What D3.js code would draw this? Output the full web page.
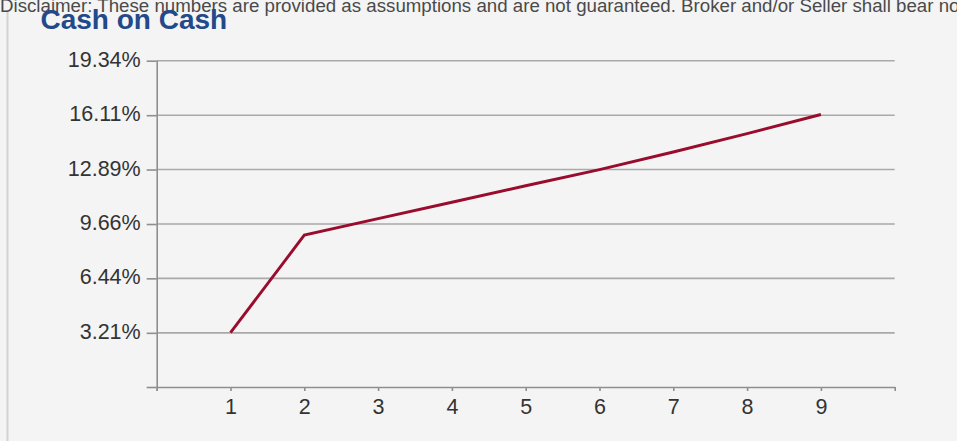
<!DOCTYPE html>
<html>
<head>
<meta charset="utf-8">
<script src="https://cdn.jsdelivr.net/npm/d3@7"></script>
<style>
  html, body { margin: 0; padding: 0; background: #f4f4f4; overflow: hidden; }
  svg { display: block; }
</style>
</head>
<body>
<script>
// ---- data ----
const years = [1, 2, 3, 4, 5, 6, 7, 8, 9];
const cashOnCash = [3.22, 9.0, 9.98, 10.95, 11.93, 12.88, 13.93, 15.02, 16.15];
const yTickValues = [0, 3.21, 6.44, 9.66, 12.89, 16.11, 19.34];
const yTickLabels = ["", "3.21%", "6.44%", "9.66%", "12.89%", "16.11%", "19.34%"];
const xTickValues = [0, 1, 2, 3, 4, 5, 6, 7, 8, 9, 10];
const xTickLabels = ["", "1", "2", "3", "4", "5", "6", "7", "8", "9", ""];
const titleText = "Cash on Cash";
const disclaimerText = "Disclaimer:  These numbers are provided as assumptions and are not guaranteed. Broker and/or Seller shall bear no";

// ---- layout ----
const W = 957, H = 441;
const svg = d3.select("body").append("svg").attr("width", W).attr("height", H);
svg.append("rect").attr("width", W).attr("height", H).attr("fill", "#f4f4f4");

// panel left border
svg.append("line").attr("x1", 7.5).attr("x2", 7.5).attr("y1", 10).attr("y2", H)
  .attr("stroke", "#d2d2d2").attr("stroke-width", 2);

const x = d3.scaleLinear().domain([0, 10]).range([156.7, 894.7]);
const y = d3.scaleLinear().domain([0, 19.34]).range([387, 60.7]);

const font = "'Liberation Sans', Arial, sans-serif";

// gridlines
svg.append("g").selectAll("line").data(yTickValues.filter(d => d > 0)).join("line")
  .attr("x1", x(0)).attr("x2", x(10))
  .attr("y1", d => y(d)).attr("y2", d => y(d))
  .attr("stroke", "#a9a9a9").attr("stroke-width", 1.6);

// y axis
const yAxis = svg.append("g").attr("transform", `translate(${x(0)},0)`)
  .call(d3.axisLeft(y).tickValues(yTickValues).tickSize(10).tickSizeOuter(0)
    .tickFormat((d, i) => yTickLabels[i]));
yAxis.select(".domain").attr("stroke", "#8e8e8e").attr("stroke-width", 1.6)
  .attr("d", `M0.5,${y(19.34)}V${y(0) + 4}`);
yAxis.selectAll(".tick line").attr("stroke", "#8e8e8e").attr("stroke-width", 1.6);
yAxis.selectAll(".tick text")
  .attr("x", -16).attr("dy", null).attr("y", 5.5)
  .attr("fill", "#333").style("font-family", font).style("font-size", "21.5px")
  .attr("text-anchor", "end");

// x axis
const xAxis = svg.append("g").attr("transform", `translate(0,${y(0)})`)
  .call(d3.axisBottom(x).tickValues(xTickValues).tickSize(4).tickSizeOuter(0)
    .tickFormat((d, i) => xTickLabels[i]));
xAxis.select(".domain").attr("stroke", "#8e8e8e").attr("stroke-width", 1.6);
xAxis.selectAll(".tick line").attr("stroke", "#8e8e8e").attr("stroke-width", 1.6);
xAxis.selectAll(".tick text")
  .attr("dy", null).attr("y", 27)
  .attr("fill", "#333").style("font-family", font).style("font-size", "21.5px");

// line
const line = d3.line().x((d, i) => x(years[i])).y(d => y(d));
svg.append("path").datum(cashOnCash)
  .attr("d", line)
  .attr("fill", "none")
  .attr("stroke", "#990c2d")
  .attr("stroke-width", 2.9)
  .attr("stroke-linejoin", "miter");

// disclaimer (drawn behind the title, as in the reference)
svg.append("text").attr("x", 0).attr("y", 11.5)
  .text(disclaimerText)
  .attr("fill", "#4a4a4a")
  .style("font-family", font).style("font-size", "18.7px");

// title
svg.append("text").attr("x", 40.5).attr("y", 28.5)
  .text(titleText)
  .attr("fill", "#22498a")
  .style("font-family", font).style("font-weight", "bold").style("font-size", "28px");
</script>
</body>
</html>
